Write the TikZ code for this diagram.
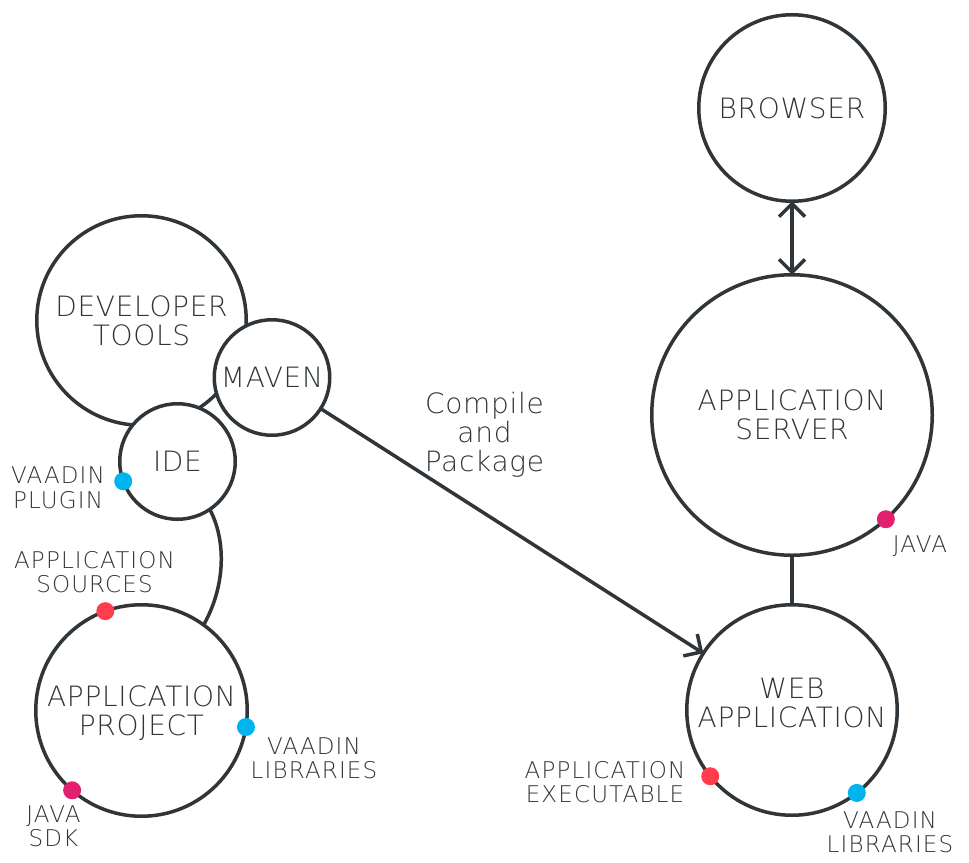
\documentclass[tikz,border=0pt]{standalone}
\usepackage{fontspec}
\setmainfont{DejaVu Sans ExtraLight}
\newfontfamily\mainsp{DejaVu Sans ExtraLight}[LetterSpace=2.5]
\newfontfamily\smallsp{DejaVu Sans ExtraLight}[LetterSpace=5]
\usetikzlibrary{arrows.meta}
\definecolor{ink}{HTML}{2F3538}
\definecolor{dcyan}{HTML}{00B4F0}
\definecolor{dred}{HTML}{FF3D4D}
\definecolor{dmag}{HTML}{E3206F}
\tikzset{
  bub/.style={circle, draw=ink, fill=white, line width=3.5pt, inner sep=0pt, outer sep=0pt,
    text=ink, align=center, font=\mainsp\fontsize{28}{29}\selectfont, text depth=0pt},
  txt/.style={text=ink, align=center, font=\mainsp\fontsize{28}{29}\selectfont, inner sep=0pt, text depth=0pt},
  dot/.style={circle, fill=#1, draw=none, inner sep=0pt, minimum size=18pt},
  lab/.style={text=ink, align=center, font=\smallsp\fontsize{23}{24.5}\selectfont, inner sep=0pt, text depth=0pt},
  conn/.style={draw=ink, line width=3.5pt, >={Straight Barb[length=13pt,width=26pt]}}
}
\begin{document}
\begin{tikzpicture}[x=1pt,y=-1pt]
\useasboundingbox (0,0) rectangle (969,862);
\fill[white] (0,0) rectangle (969,862);

% circles
\node[bub, minimum size=209.5pt] (dev) at (141.5,320.5) {DEVELOPER\\TOOLS};
\node[bub, minimum size=115.5pt] (maven) at (272,377.5) {MAVEN};
\node[bub, minimum size=115.5pt] (ide) at (177.5,461.5) {IDE};
\node[bub, minimum size=211.5pt] (proj) at (141.5,710.5) {APPLICATION\\PROJECT};
\node[bub, minimum size=186.5pt] (browser) at (792,108) {BROWSER};
\node[bub, minimum size=280.5pt] (server) at (792,415) {APPLICATION\\SERVER};
\node[bub, minimum size=210.5pt] (web) at (792,710) {};
\node[txt] (webtxt) at (792,703) {WEB\\APPLICATION};

% connectors
\draw[conn] (ide.-56) .. controls (226,540) and (226,585) .. (proj.54);
\draw[conn, ->] (maven) -- (web);
\draw[conn, <->] (browser.south) -- (server.north);
\draw[conn] (server.south) -- (web.north);

\node[txt] (compile) at (484.5,432) {Compile\\and\\Package};

% dots
\node[dot=dcyan] (dplugin) at (ide.200) {};
\node[dot=dred] (dsrc) at (proj.110) {};
\node[dot=dcyan] (dplib) at (proj.-9.6) {};
\node[dot=dmag] (dsdk) at (proj.229) {};
\node[dot=dmag] (djava) at (server.-48.7) {};
\node[dot=dred] (dexec) at (web.219) {};
\node[dot=dcyan] (dwlib) at (web.-52) {};

% labels
\node[lab] (lplugin) at (58,487.5) {VAADIN\\PLUGIN};
\node[lab] (lsrc) at (94.5,572) {APPLICATION\\SOURCES};
\node[lab] (lplib) at (314,758) {VAADIN\\LIBRARIES};
\node[lab] (lsdk) at (53.5,826) {JAVA\\SDK};
\node[lab, anchor=base] (ljava) at (920,552) {JAVA};
\node[lab] (lexec) at (605,782) {APPLICATION\\EXECUTABLE};
\node[lab] (lwlib) at (890,832) {VAADIN\\LIBRARIES};
\end{tikzpicture}
\end{document}
